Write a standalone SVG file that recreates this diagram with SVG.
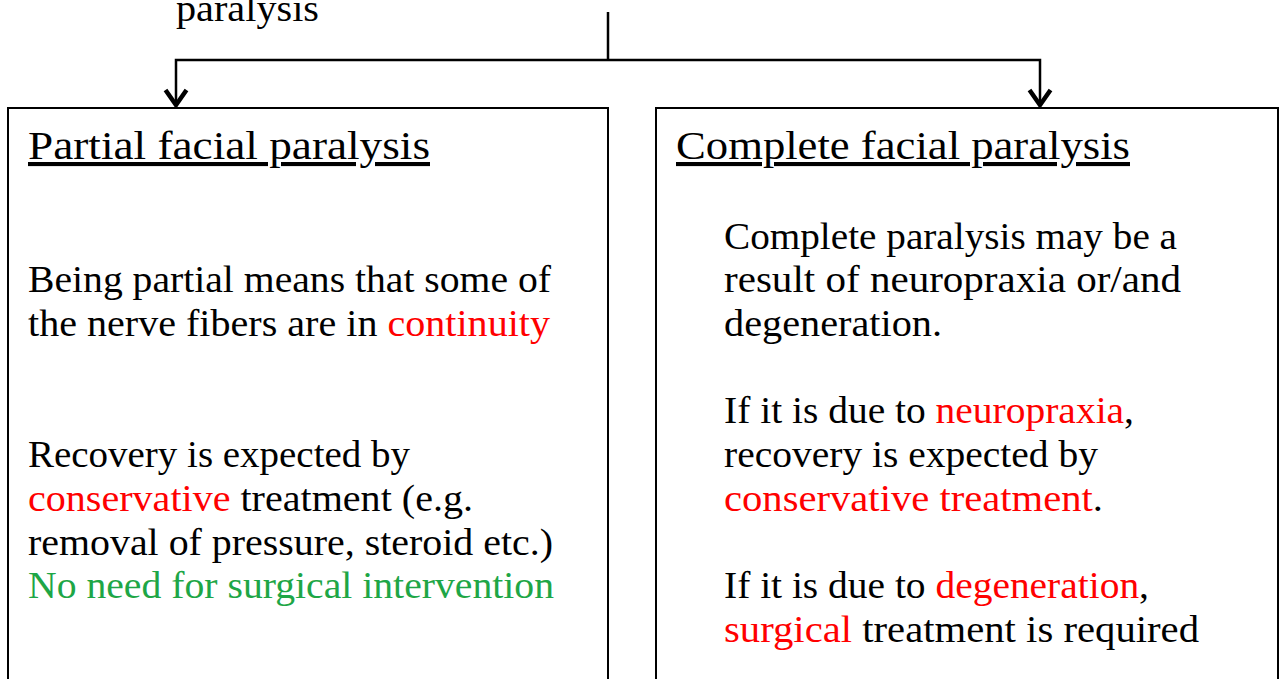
<svg xmlns="http://www.w3.org/2000/svg" width="1280" height="679" viewBox="0 0 1280 679">
<style>
.t{font-family:"Liberation Serif","Times New Roman",serif;font-size:37px;fill:#000}
.h{font-family:"Liberation Serif","Times New Roman",serif;font-size:41px;fill:#000;text-decoration:underline}
.r{fill:#ff0000}
.g{fill:#1ea646}
.box{fill:#fff;stroke:#000;stroke-width:2}
.ln{fill:none;stroke:#000;stroke-width:2.5}
</style>
<defs>
<marker id="v" viewBox="0 0 22 26" refX="20" refY="13" markerWidth="22" markerHeight="26" markerUnits="userSpaceOnUse" orient="auto">
<path d="M4,2.5 L19,13 L4,23.5" fill="none" stroke="#000" stroke-width="4.5" stroke-linejoin="miter"/>
</marker>
</defs>
<rect width="1280" height="679" fill="#fff"/>
<g id="root">
<text class="t" x="176" y="21" textLength="143" lengthAdjust="spacingAndGlyphs">paralysis</text>
</g>
<g id="partial">
<rect class="box" x="8" y="108" width="600" height="600"/>
<text class="h" x="28" y="159" textLength="402" lengthAdjust="spacingAndGlyphs">Partial facial paralysis</text>
<text class="t" x="28" y="292" textLength="523" lengthAdjust="spacingAndGlyphs">Being partial means that some of</text>
<text class="t" x="28" y="336" textLength="522" lengthAdjust="spacingAndGlyphs">the nerve fibers are in <tspan class="r">continuity</tspan></text>
<text class="t" x="28" y="467" textLength="382" lengthAdjust="spacingAndGlyphs">Recovery is expected by</text>
<text class="t" x="28" y="511" textLength="445" lengthAdjust="spacingAndGlyphs"><tspan class="r">conservative</tspan> treatment (e.g.</text>
<text class="t" x="28" y="555" textLength="525" lengthAdjust="spacingAndGlyphs">removal of pressure, steroid etc.)</text>
<text class="t g" x="28" y="598" textLength="526" lengthAdjust="spacingAndGlyphs">No need for surgical intervention</text>
</g>
<g id="complete">
<rect class="box" x="656" y="108" width="622" height="600"/>
<text class="h" x="676" y="159" textLength="454" lengthAdjust="spacingAndGlyphs">Complete facial paralysis</text>
<text class="t" x="724" y="249" textLength="453" lengthAdjust="spacingAndGlyphs">Complete paralysis may be a</text>
<text class="t" x="724" y="292" textLength="457" lengthAdjust="spacingAndGlyphs">result of neuropraxia or/and</text>
<text class="t" x="724" y="336" textLength="218" lengthAdjust="spacingAndGlyphs">degeneration.</text>
<text class="t" x="724" y="423" textLength="410" lengthAdjust="spacingAndGlyphs">If it is due to <tspan class="r">neuropraxia</tspan>,</text>
<text class="t" x="724" y="467" textLength="374" lengthAdjust="spacingAndGlyphs">recovery is expected by</text>
<text class="t" x="724" y="511" textLength="379" lengthAdjust="spacingAndGlyphs"><tspan class="r">conservative treatment</tspan>.</text>
<text class="t" x="724" y="598" textLength="425" lengthAdjust="spacingAndGlyphs">If it is due to <tspan class="r">degeneration</tspan>,</text>
<text class="t" x="724" y="642" textLength="475" lengthAdjust="spacingAndGlyphs"><tspan class="r">surgical</tspan> treatment is required</text>
</g>
<g id="connectors">
<path class="ln" d="M608,12 V60"/>
<path class="ln" d="M608,60 H176 V106" marker-end="url(#v)"/>
<path class="ln" d="M608,60 H1040 V106" marker-end="url(#v)"/>
</g>
</svg>
